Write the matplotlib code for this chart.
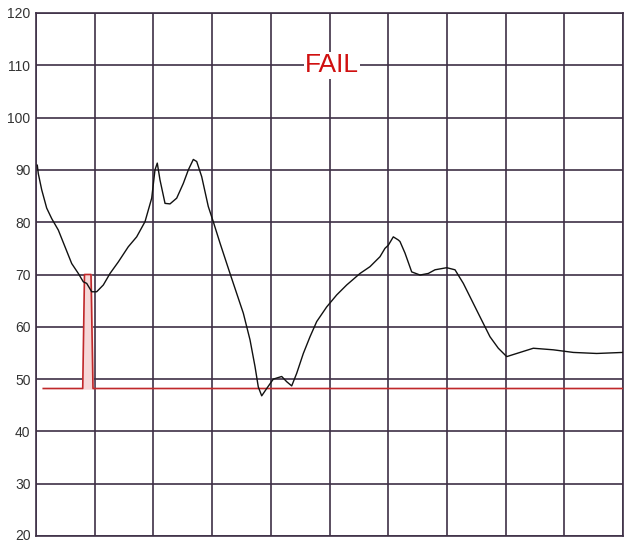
import matplotlib
matplotlib.use("Agg")
import matplotlib.pyplot as plt
import matplotlib.transforms as mtransforms

# Measured signal (black)
sig_x = [0.022, 0.039, 0.097, 0.182, 0.267, 0.380, 0.494, 0.608, 0.721, 0.806, 0.864, 0.949, 1.034,
         1.147, 1.261, 1.402, 1.572, 1.715, 1.857, 1.971, 2.027, 2.066, 2.112, 2.198, 2.283, 2.397,
         2.509, 2.595, 2.680, 2.738, 2.823, 2.935, 3.020, 3.135, 3.305, 3.475, 3.532, 3.646, 3.731,
         3.787, 3.845, 3.930, 4.043, 4.186, 4.271, 4.356, 4.441, 4.554, 4.668, 4.782, 4.952, 5.123,
         5.293, 5.520, 5.690, 5.860, 5.945, 6.002, 6.087, 6.172, 6.201, 6.286, 6.400, 6.542, 6.683,
         6.797, 6.997, 7.138, 7.280, 7.422, 7.564, 7.734, 7.876, 8.019, 8.189, 8.472, 8.813, 9.153,
         9.552, 10.0]
sig_y = [90.9, 89.3, 86.2, 82.7, 80.7, 78.5, 75.3, 72.1, 70.2, 68.6, 68.3, 66.7, 66.7,
         68.0, 70.2, 72.4, 75.3, 77.2, 80.1, 84.6, 90.0, 91.3, 88.1, 83.6, 83.5, 84.6,
         87.4, 90.0, 92.0, 91.6, 88.7, 83.0, 80.1, 76.0, 70.2, 64.5, 62.6, 57.5, 52.4,
         48.5, 46.8, 48.2, 50.0, 50.5, 49.5, 48.7, 51.1, 54.9, 58.1, 61.0, 63.8, 66.1,
         68.0, 70.2, 71.5, 73.4, 75.0, 75.6, 77.2, 76.6, 76.3, 74.1, 70.5, 69.9, 70.2,
         70.9, 71.3, 70.9, 68.3, 65.1, 61.9, 58.1, 55.9, 54.3, 54.9, 55.9, 55.6, 55.1,
         54.9, 55.1]

# Limit / marker trace (red)
lim_x = [0.124, 0.796, 0.826, 0.937, 0.971, 10.0]
lim_y = [48.2, 48.2, 70.0, 70.0, 48.2, 48.2]

y_ticks = [20, 30, 40, 50, 60, 70, 80, 90, 100, 110, 120]
x_grid = list(range(0, 11))
status_text = "FAIL"

fig = plt.figure(figsize=(6.24, 5.42), dpi=100)
ax = fig.add_axes([36/624, 6/542, 587/624, 523/542])
grid_c = "#3e3046"
ax.set_xlim(0, 10)
ax.set_ylim(20, 120)
ax.set_xticks(x_grid)
ax.set_yticks(y_ticks)
ax.set_xticklabels([])
ax.set_yticklabels([str(t) for t in y_ticks], fontsize=10, color="#333333",
                   family="Liberation Sans")
ax.tick_params(length=0, pad=4)
# nudge the bottom label up slightly so it stays inside the image
lbl = ax.get_yticklabels()[0]
lbl.set_transform(lbl.get_transform() + mtransforms.ScaledTranslation(0, 2/100, fig.dpi_scale_trans))
ax.grid(True, color=grid_c, linewidth=1.2)
for s in ax.spines.values():
    s.set_color(grid_c)
    s.set_linewidth(1.2)

ax.fill_between(lim_x[1:5], lim_y[1:5], 48.2, color="#f6d8d8", zorder=2)
ax.plot(lim_x, lim_y, color="#c0282a", linewidth=1.2, zorder=3)
ax.plot(sig_x, sig_y, color="#111111", linewidth=1.0, zorder=4)

ax.text(5.04, 110.0, status_text, color="#d01010", fontsize=19, family="Liberation Sans",
        ha="center", va="center", zorder=5,
        bbox=dict(facecolor="white", edgecolor="none", pad=1))

fig.savefig("out.png", dpi=100)
